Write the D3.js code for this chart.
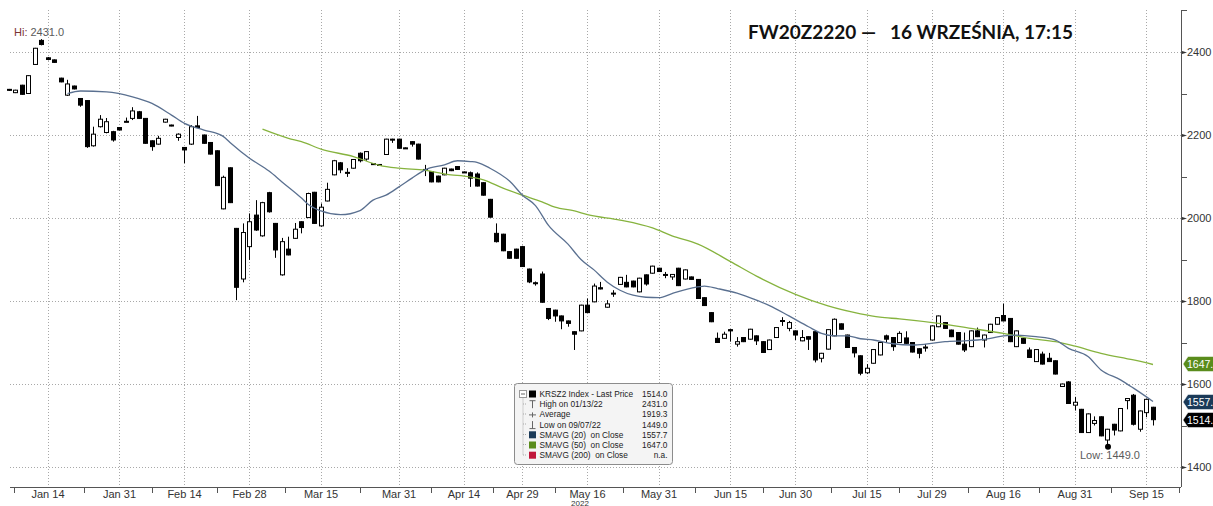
<!DOCTYPE html>
<meta charset="utf-8">
<script src="https://cdn.jsdelivr.net/npm/d3@7"></script>
<style>
  body { margin: 0; background: #fff; }
  svg { display: block; font-family: "Liberation Sans", Arial, sans-serif; }
</style>
<div id="chart"></div>
<script>
// trading calendar (GPW 2022), holidays skipped
var firstDay = "2022-01-05", lastDay = "2022-09-16";
var holidays = ["2022-01-06", "2022-04-15", "2022-04-18", "2022-05-03", "2022-06-16", "2022-08-15"];

// OHLC, one value per trading day
var opens = [2310,2302,2320,2300,2370,2428,2386,2381,2337,2296,2318,2288,2283,2174,2220,2206,2208,2218,2233,2240,
  2256,2240,2186,2178,2231,2224,2194,2170,2178,2222,2200,2182,2162,2022,2121,1975,1853,1931,2007,1957,
  2061,1987,1863,1925,1951,1991,2001,2062,1981,2041,2104,2133,2110,2120,2156,2142,2131,2129,2153,2190,
  2190,2169,2184,2178,2117,2112,2101,2104,2118,2124,2111,2109,2106,2085,2045,1963,1961,1919,1925,1931,
  1877,1844,1865,1782,1778,1764,1752,1726,1728,1790,1798,1832,1785,1819,1840,1845,1848,1822,1863,1867,
  1879,1864,1858,1879,1853,1858,1852,1808,1772,1710,1710,1731,1696,1712,1708,1716,1702,1683,1712,1753,
  1734,1728,1704,1714,1726,1662,1684,1716,1745,1718,1688,1668,1627,1650,1670,1716,1712,1700,1711,1700,
  1685,1689,1706,1738,1748,1730,1724,1696,1690,1728,1706,1724,1744,1765,1758,1690,1710,1682,1654,1672,
  1662,1656,1594,1605,1549,1539,1483,1505,1521,1465,1503,1487,1560,1573,1491,1531,1544];
var highs = [2311,2309,2321,2344,2410,2431,2388,2382,2338,2333,2319,2289,2284,2220,2248,2241,2210,2219,2242,2267,
  2258,2241,2187,2198,2239,2225,2204,2171,2224,2246,2201,2183,2163,2102,2122,1976,1987,2011,2043,2039,
  2063,1988,1952,1955,1988,1992,2061,2063,2035,2085,2140,2135,2120,2142,2158,2161,2132,2130,2191,2191,
  2191,2170,2185,2179,2128,2113,2102,2121,2119,2125,2112,2112,2110,2086,2046,1987,1962,1920,1926,1933,
  1878,1847,1871,1783,1779,1765,1753,1727,1791,1806,1842,1846,1802,1826,1858,1863,1849,1856,1864,1885,
  1880,1870,1865,1880,1876,1859,1853,1809,1773,1724,1726,1732,1713,1713,1733,1717,1703,1707,1737,1761,
  1752,1729,1730,1715,1730,1675,1732,1758,1746,1719,1689,1669,1648,1684,1701,1719,1713,1727,1727,1701,
  1686,1696,1741,1765,1749,1731,1725,1724,1729,1736,1719,1745,1761,1794,1759,1729,1711,1688,1684,1678,
  1675,1657,1601,1607,1569,1540,1529,1522,1522,1492,1504,1542,1566,1576,1536,1565,1545];
var lows = [2306,2301,2297,2299,2369,2416,2380,2374,2327,2294,2310,2268,2169,2172,2218,2204,2184,2211,2231,2236,
  2239,2179,2162,2177,2230,2221,2186,2132,2176,2217,2179,2153,2077,2021,2036,1802,1845,1899,1969,1955,
  2013,1904,1861,1910,1950,1963,2000,1986,1979,2040,2103,2108,2099,2119,2134,2138,2129,2127,2152,2181,
  2167,2167,2172,2141,2101,2086,2086,2103,2113,2116,2109,2075,2076,2054,2001,1941,1920,1902,1902,1882,
  1843,1837,1796,1754,1750,1732,1738,1682,1727,1771,1797,1828,1784,1810,1839,1833,1833,1821,1837,1866,
  1870,1855,1851,1836,1852,1851,1805,1788,1749,1699,1709,1702,1690,1701,1707,1694,1675,1682,1711,1740,
  1727,1706,1703,1682,1652,1652,1683,1715,1731,1687,1664,1621,1624,1649,1669,1700,1680,1699,1697,1676,
  1662,1678,1705,1737,1733,1713,1695,1677,1689,1713,1688,1723,1743,1751,1701,1689,1697,1663,1653,1647,
  1653,1623,1593,1552,1536,1482,1482,1500,1474,1449,1476,1486,1539,1500,1485,1520,1500];
var closes = [2308,2308,2298,2343,2409,2418,2382,2375,2328,2323,2311,2272,2172,2202,2238,2232,2188,2212,2232,2258,
  2240,2180,2172,2192,2238,2222,2202,2164,2220,2218,2180,2154,2078,2098,2037,1833,1965,1991,1971,2037,
  2015,1923,1943,1911,1973,1977,2059,1987,2026,2069,2138,2116,2109,2141,2138,2160,2130,2128,2190,2189,
  2168,2168,2178,2142,2116,2087,2087,2120,2114,2117,2110,2096,2077,2055,2002,1943,1921,1903,1903,1883,
  1846,1843,1797,1758,1764,1752,1746,1720,1790,1772,1836,1829,1793,1818,1857,1834,1834,1855,1841,1884,
  1871,1863,1864,1837,1875,1852,1806,1789,1750,1700,1720,1728,1702,1702,1732,1704,1676,1706,1736,1752,
  1748,1718,1712,1708,1658,1674,1731,1756,1732,1688,1675,1626,1638,1683,1700,1708,1690,1722,1698,1677,
  1674,1688,1740,1764,1734,1714,1696,1682,1728,1714,1718,1744,1760,1752,1702,1728,1698,1664,1683,1648,
  1654,1624,1600,1553,1556,1483,1528,1512,1475,1491,1489,1541,1565,1503,1535,1563,1514];

// moving averages
var sma20 = [["2022-01-19",2300],["2022-01-21",2306],["2022-01-27",2304],["2022-02-02",2292],["2022-02-07",2276],
  ["2022-02-10",2248],["2022-02-14",2228],["2022-02-17",2212],["2022-02-22",2196],["2022-02-23",2182],
  ["2022-02-28",2144],["2022-03-03",2113],["2022-03-07",2087],["2022-03-10",2048],["2022-03-11",2033],
  ["2022-03-15",2017],["2022-03-18",2008],["2022-03-23",2018],["2022-03-25",2043],["2022-03-29",2055],
  ["2022-03-31",2075],["2022-04-04",2096],["2022-04-06",2116],["2022-04-11",2128],["2022-04-13",2138],
  ["2022-04-19",2136],["2022-04-20",2134],["2022-04-22",2120],["2022-04-27",2089],["2022-04-29",2055],
  ["2022-05-04",2030],["2022-05-06",1982],["2022-05-11",1937],["2022-05-13",1900],["2022-05-17",1875],
  ["2022-05-19",1846],["2022-05-23",1826],["2022-05-25",1814],["2022-05-27",1809],["2022-05-31",1808],
  ["2022-06-02",1818],["2022-06-07",1831],["2022-06-09",1836],["2022-06-13",1830],["2022-06-17",1819],
  ["2022-06-22",1802],["2022-06-24",1789],["2022-06-29",1764],["2022-07-04",1738],["2022-07-06",1722],
  ["2022-07-08",1716],["2022-07-12",1716],["2022-07-14",1709],["2022-07-18",1706],["2022-07-21",1697],
  ["2022-07-26",1694],["2022-07-28",1696],["2022-08-02",1702],["2022-08-05",1704],["2022-08-09",1706],
  ["2022-08-11",1710],["2022-08-16",1716],["2022-08-18",1718],["2022-08-23",1714],["2022-08-26",1706],
  ["2022-08-30",1686],["2022-09-02",1666],["2022-09-06",1634],["2022-09-09",1610],["2022-09-13",1590],
  ["2022-09-16",1558]];
var sma50 = [["2022-03-02",2214],["2022-03-08",2192],["2022-03-10",2184],["2022-03-15",2166],["2022-03-22",2148],
  ["2022-03-28",2127],["2022-03-31",2120],["2022-04-06",2115],["2022-04-12",2104],["2022-04-14",2101],
  ["2022-04-21",2092],["2022-04-26",2072],["2022-04-29",2055],["2022-05-05",2039],["2022-05-09",2026],
  ["2022-05-12",2017],["2022-05-16",2008],["2022-05-23",1995],["2022-05-30",1976],["2022-06-02",1957],
  ["2022-06-08",1937],["2022-06-15",1895],["2022-06-22",1860],["2022-06-30",1816],["2022-07-07",1788],
  ["2022-07-14",1769],["2022-07-19",1761],["2022-07-22",1757],["2022-08-01",1746],["2022-08-08",1734],
  ["2022-08-16",1722],["2022-08-22",1710],["2022-08-26",1702],["2022-08-31",1691],["2022-09-06",1674],
  ["2022-09-13",1658],["2022-09-16",1647]];

var tickDates = ["2022-01-14","2022-01-31","2022-02-14","2022-02-28","2022-03-15","2022-03-31","2022-04-14",
  "2022-04-29","2022-05-16","2022-05-31","2022-06-15","2022-06-30","2022-07-15","2022-07-29","2022-08-16",
  "2022-08-31","2022-09-15"];
var tickLabels = ["Jan 14","Jan 31","Feb 14","Feb 28","Mar 15","Mar 31","Apr 14","Apr 29","May 16","May 31",
  "Jun 15","Jun 30","Jul 15","Jul 29","Aug 16","Aug 31","Sep 15"];
var yTicks = [1400, 1600, 1800, 2000, 2200, 2400];
var yMinor = [1500, 1700, 1900, 2100, 2300, 2500];

var legendNames = ["KRSZ2 Index - Last Price", "High on 01/13/22", "Average", "Low on 09/07/22",
  "SMAVG (20)  on Close", "SMAVG (50)  on Close", "SMAVG (200)  on Close"];
var legendValues = ["1514.0", "2431.0", "1919.3", "1449.0", "1557.7", "1647.0", "n.a."];

// axis tags, as far as they show at the right edge
var tagValues = [1647.0, 1557.7, 1514.0];
var tagTexts = ["1647.", "1557.", "1514."];
var tagColors = ["#5a8c1c", "#1b3a58", "#000"];

// build date list
var fmt = d3.timeFormat("%Y-%m-%d"), parse = d3.timeParse("%Y-%m-%d");
var days = d3.timeDay.range(parse(firstDay), d3.timeDay.offset(parse(lastDay), 1))
  .filter(function(d) { return d.getDay() != 0 && d.getDay() != 6 && holidays.indexOf(fmt(d)) < 0; })
  .map(fmt);

var data = days.map(function(d, i) {
  return { date: d, o: opens[i], h: highs[i], l: lows[i], c: closes[i] };
});

var W = 1213, H = 506;
var plotRight = 1181, plotLeft = 10, plotTop = 10, plotBottom = 487;

var svg = d3.select("#chart").append("svg").attr("width", W).attr("height", H);

var x = d3.scaleBand().domain(days).range([5.75, 5.75 + days.length * 6.5]).paddingInner(0.35).paddingOuter(0.175);
var cx = function(d) { return x(d) + x.bandwidth() / 2; };
var y = d3.scaleLinear().domain([1400, 2400]).range([467, 52]);

// grid
svg.append("g").selectAll("line").data(yTicks).enter().append("line")
  .attr("x1", plotLeft).attr("x2", plotRight)
  .attr("y1", function(d) { return Math.round(y(d)) + 0.5; })
  .attr("y2", function(d) { return Math.round(y(d)) + 0.5; })
  .attr("stroke", "#a8a8a8").attr("stroke-dasharray", "1,2");
svg.append("g").selectAll("line").data(tickDates).enter().append("line")
  .attr("x1", function(d) { return Math.round(cx(d)) + 0.5; })
  .attr("x2", function(d) { return Math.round(cx(d)) + 0.5; })
  .attr("y1", plotTop).attr("y2", plotBottom)
  .attr("stroke", "#a8a8a8").attr("stroke-dasharray", "1,2");

// candles
var candles = svg.append("g").selectAll("g").data(data).enter().append("g");
candles.append("line")
  .attr("x1", function(d) { return Math.round(cx(d.date)) + 0.5; })
  .attr("x2", function(d) { return Math.round(cx(d.date)) + 0.5; })
  .attr("y1", function(d) { return y(d.h); })
  .attr("y2", function(d) { return y(d.l); })
  .attr("stroke", "#000").attr("stroke-width", 1);
candles.append("rect")
  .attr("x", function(d) { return Math.round(cx(d.date)) - 1.5; })
  .attr("width", 4)
  .attr("y", function(d) { return y(Math.max(d.o, d.c)); })
  .attr("height", function(d) { return Math.max(1, Math.abs(y(d.o) - y(d.c))); })
  .attr("fill", function(d) { return d.c >= d.o ? "#fff" : "#000"; })
  .attr("stroke", "#000").attr("stroke-width", 1);

// moving averages
var line = d3.line()
  .x(function(d) { return cx(d[0]); })
  .y(function(d) { return y(d[1]); })
  .curve(d3.curveMonotoneX);
svg.append("path").datum(sma50).attr("d", line)
  .attr("fill", "none").attr("stroke", "#86b33e").attr("stroke-width", 1.3);
svg.append("path").datum(sma20).attr("d", line)
  .attr("fill", "none").attr("stroke", "#5a7090").attr("stroke-width", 1.3);

// high / low markers
var hiDay = data[d3.maxIndex(data, function(d) { return d.h; })];
var loDay = data[d3.minIndex(data, function(d) { return d.l; })];
svg.append("circle").attr("cx", cx(loDay.date) + 0.5).attr("cy", y(loDay.l)).attr("r", 3).attr("fill", "#000");
var hi = svg.append("text").attr("x", 14).attr("y", 36).attr("font-size", 11).attr("fill", "#5b5b5b");
hi.append("tspan").attr("fill", "#7b3434").text("Hi: ");
hi.append("tspan").text(hiDay.h.toFixed(1));
svg.append("text").attr("x", 1080).attr("y", 459).attr("font-size", 11).attr("fill", "#5b5b5b")
  .text("Low: " + loDay.l.toFixed(1));

// right axis
svg.append("line").attr("x1", plotRight + 0.5).attr("x2", plotRight + 0.5).attr("y1", plotTop).attr("y2", plotBottom)
  .attr("stroke", "#555");
svg.append("g").selectAll("path").data(yTicks).enter().append("path")
  .attr("d", function(d) { var yy = Math.round(y(d)) + 0.5; return "M" + (plotRight + 1) + "," + (yy - 1.5) + "L" + (plotRight + 6) + "," + yy + "L" + (plotRight + 1) + "," + (yy + 1.5) + "Z"; })
  .attr("fill", "#333");
svg.append("g").selectAll("line").data(yMinor).enter().append("line")
  .attr("x1", plotRight + 1).attr("x2", plotRight + 6)
  .attr("y1", function(d) { return Math.round(y(d)) + 0.5; })
  .attr("y2", function(d) { return Math.round(y(d)) + 0.5; })
  .attr("stroke", "#555");
svg.append("g").selectAll("text").data(yTicks).enter().append("text")
  .attr("x", 1187).attr("y", function(d) { return y(d) + 4; })
  .attr("font-size", 11).attr("fill", "#333")
  .text(function(d) { return d; });

// value tags on the axis
var tag = svg.append("g").selectAll("g").data(tagValues).enter().append("g")
  .attr("transform", function(d) { return "translate(1183," + Math.round(y(d)) + ")"; });
tag.append("path").attr("d", "M0,0L5,-7.5L31,-7.5L31,7.5L5,7.5Z")
  .attr("fill", function(d, i) { return tagColors[i]; }).attr("stroke", "#fff").attr("stroke-width", 0.5);
tag.append("text").attr("x", 4).attr("y", 4).attr("font-size", 10.5).attr("fill", "#fff")
  .text(function(d, i) { return tagTexts[i]; });

// bottom axis
svg.append("line").attr("x1", plotLeft).attr("x2", plotRight).attr("y1", plotBottom + 0.5).attr("y2", plotBottom + 0.5)
  .attr("stroke", "#555");
var tickX = tickDates.map(function(d) { return cx(d); });
var sepX = [14];
for (var i = 1; i < tickX.length; i++) sepX.push((tickX[i - 1] + tickX[i]) / 2);
sepX.push(plotRight - 2);
svg.append("g").selectAll("line").data(sepX).enter().append("line")
  .attr("x1", function(d) { return Math.round(d) + 0.5; })
  .attr("x2", function(d) { return Math.round(d) + 0.5; })
  .attr("y1", plotBottom).attr("y2", plotBottom + 6)
  .attr("stroke", "#555");
svg.append("g").selectAll("text").data(tickDates).enter().append("text")
  .attr("x", function(d) { return cx(d); }).attr("y", 498)
  .attr("text-anchor", "middle").attr("font-size", 11).attr("fill", "#333")
  .text(function(d, i) { return tickLabels[i]; });
svg.append("text").attr("x", 580).attr("y", 505.5).attr("text-anchor", "middle")
  .attr("font-size", 8).attr("fill", "#333").text("2022");

// title
svg.append("text").attr("x", 748).attr("y", 39)
  .attr("font-family", "Lato, 'Open Sans', sans-serif").attr("font-weight", "bold").attr("font-size", 19)
  .attr("fill", "#111").style("white-space", "pre")
  .text("FW20Z2220 \u2014   16 WRZEŚNIA, 17:15");

// legend
var lg = svg.append("g").attr("transform", "translate(514.5,383.5)");
lg.append("rect").attr("width", 158).attr("height", 81).attr("rx", 3)
  .attr("fill", "#f4f4f4").attr("stroke", "#8c8c8c");
lg.append("path").attr("d", "M8.5,14V71.5M8.5,20.5H12M8.5,30.5H12M8.5,40.5H12M8.5,51H12M8.5,61H12M8.5,71.5H12")
  .attr("fill", "none").attr("stroke", "#aaa").attr("stroke-dasharray", "1,1");
lg.append("rect").attr("x", 5).attr("y", 7).attr("width", 7).attr("height", 7).attr("fill", "#fff").attr("stroke", "#999");
lg.append("line").attr("x1", 6.5).attr("x2", 10.5).attr("y1", 10.5).attr("y2", 10.5).attr("stroke", "#666");
var swatch = ["#000", null, null, null, "#1b3a58", "#5a8c1c", "#c0163a"];
var rows = lg.selectAll("g.row").data(legendNames).enter().append("g").attr("class", "row")
  .attr("transform", function(d, i) { return "translate(0," + (10.5 + i * 10.2) + ")"; });
rows.each(function(d, i) {
  var g = d3.select(this);
  if (swatch[i]) {
    g.append("rect").attr("x", 14.5).attr("y", -3.5).attr("width", 7).attr("height", 7)
      .attr("fill", swatch[i]);
  } else if (i == 1) {
    g.append("path").attr("d", "M15,-3.5H21M18,-3.5V4").attr("stroke", "#666").attr("fill", "none");
  } else if (i == 2) {
    g.append("path").attr("d", "M14.5,0.5H21.5M18,-2V3").attr("stroke", "#666").attr("fill", "none");
  } else {
    g.append("path").attr("d", "M15,4H21M18,4V-3.5").attr("stroke", "#666").attr("fill", "none");
  }
  g.append("text").attr("x", 25).attr("y", 3).attr("font-size", 8.3).attr("fill", "#222").style("white-space", "pre").text(d);
  g.append("text").attr("x", 153).attr("y", 3).attr("text-anchor", "end").attr("font-size", 8.3).attr("fill", "#222").text(legendValues[i]);
});
</script>
